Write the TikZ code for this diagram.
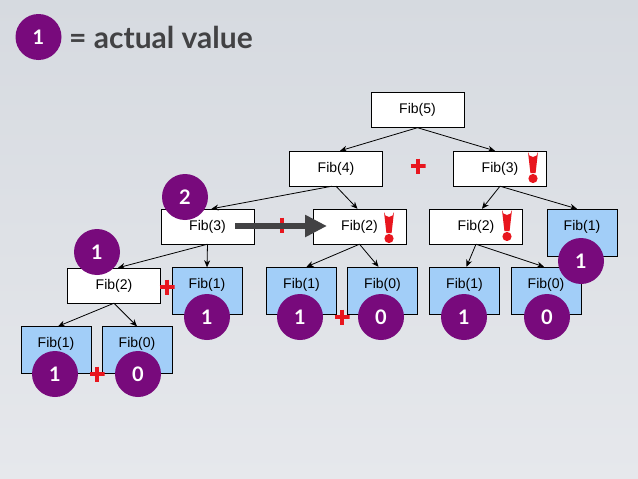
\documentclass[tikz,border=0pt]{standalone}
\usepackage{fontspec}
\setmainfont{Liberation Sans}
\newfontfamily\valuefont{Lato}
\usetikzlibrary{arrows.meta, positioning, calc}

\definecolor{callblue}{RGB}{162,206,248}
\definecolor{valpurple}{RGB}{120,10,124}
\definecolor{markred}{RGB}{232,22,30}
\definecolor{arrowgrey}{RGB}{66,66,68}
\definecolor{bgtop}{RGB}{214,218,224}
\definecolor{bgbottom}{RGB}{230,232,236}

\begin{document}
\begin{tikzpicture}[x=1pt, y=-1pt,
    callbox/.style={draw, fill=white, minimum width=93pt, minimum height=35pt,
      inner sep=0pt, font=\fontsize{14}{16}\selectfont},
    basebox/.style={draw, fill=callblue, minimum width=70pt, inner sep=0pt,
      text height=21pt, text depth=26pt, font=\fontsize{14}{16}\selectfont},
    valdot/.style={circle, fill=valpurple, text=white, minimum size=46pt,
      inner sep=0pt, font=\valuefont\bfseries\fontsize{20}{22}\selectfont},
    plusmark/.style={minimum size=15pt, inner sep=0pt,
      path picture={
        \draw[markred, line width=4pt]
          (path picture bounding box.north) -- (path picture bounding box.south)
          (path picture bounding box.west) -- (path picture bounding box.east);
      }},
    callarrow/.style={-{Stealth[length=7pt, width=6pt]}, line width=0.8pt},
    bang/.pic={
      \fill[markred] (-5,0) arc[start angle=180, end angle=0, radius=5]
        -- (2.6,21) -- (-2.6,21) -- cycle;
      \fill[markred] (0,26.5) circle[radius=4.6];
    }]

  % background
  \shade[top color=bgtop, bottom color=bgbottom] (0,0) rectangle (638,479);
  \useasboundingbox (0,0) rectangle (638,479);

  % legend
  \node[valdot] (key) at (38.5,37) {1};
  \node[right=4pt of key, text=arrowgrey,
    font=\valuefont\bfseries\fontsize{30}{32}\selectfont] (keytext) {= actual value};

  % calls
  \node[callbox] (f5) at (417.5,110) {Fib(5)};
  \node[callbox] (f4) at (336,168.5) {Fib(4)};
  \node[callbox] (f3r) at (500,168.5) {Fib(3)};
  \node[callbox] (f3l) at (207.5,226.5) {Fib(3)};
  \node[callbox] (f2m) at (359.5,226.5) {Fib(2)};
  \node[callbox] (f2r) at (476,226.5) {Fib(2)};
  \node[callbox] (f2l) at (114,285.5) {Fib(2)};

  % base cases
  \node[basebox] (f1r) at (582,232.5) {Fib(1)};
  \node[basebox] (f1a) at (207,291) {Fib(1)};
  \node[basebox] (f1b) at (301.5,290.5) {Fib(1)};
  \node[basebox] (f0b) at (382.5,290.5) {Fib(0)};
  \node[basebox] (f1c) at (464.5,290.5) {Fib(1)};
  \node[basebox] (f0c) at (546,290.5) {Fib(0)};
  \node[basebox] (f1d) at (56,350) {Fib(1)};
  \node[basebox] (f0d) at (137,350) {Fib(0)};

  % call edges
  \draw[callarrow] (f5.south) -- ([xshift=4pt]f4.north);
  \draw[callarrow] (f5.south) -- ([xshift=-5pt]f3r.north);
  \draw[callarrow] ([xshift=-4pt]f4.south) -- ([xshift=4pt]f3l.north);
  \draw[callarrow] (f4.south) -- ([xshift=-2pt]f2m.north);
  \draw[callarrow] (f3r.south) -- ([xshift=6pt]f2r.north);
  \draw[callarrow] (f3r.south) -- ([xshift=-5pt]f1r.north);
  \draw[callarrow] (f3l.south) -- ([xshift=4pt]f2l.north);
  \draw[callarrow] (f3l.south) -- (f1a.north);
  \draw[callarrow] (f2m.south) -- ([xshift=5pt]f1b.north);
  \draw[callarrow] (f2m.south) -- ([xshift=-4pt]f0b.north);
  \draw[callarrow] (f2r.south) -- ([xshift=2pt]f1c.north);
  \draw[callarrow] (f2r.south) -- ([xshift=-2pt]f0c.north);
  \draw[callarrow] (f2l.south) -- ([xshift=2pt]f1d.north);
  \draw[callarrow] (f2l.south) -- (f0d.north);

  % additions
  \node[plusmark] (p1) at (418,166) {};
  \node[plusmark] (p2) at (282,225) {};
  \node[plusmark] (p3) at (167,287) {};
  \node[plusmark] (p4) at (342,317) {};
  \node[plusmark] (p5) at (97,374) {};

  % reuse arrow
  \coordinate (reusefrom) at (235,226);
  \coordinate (reuseto) at (327,226);
  \draw[arrowgrey, line width=6pt, -{Triangle[length=22pt, width=21pt]}]
    (reusefrom) -- (reuseto);

  % repeated work
  \pic at (533,152) {bang};
  \pic at (389,212) {bang};
  \pic at (507,210) {bang};

  % values
  \node[valdot] (v2) at (185,197) {2};
  \node[valdot] (v1l) at (97,252) {1};
  \node[valdot] (v1r) at (581,261) {1};
  \node[valdot] (v1a) at (207,317) {1};
  \node[valdot] (v1b) at (300,317) {1};
  \node[valdot] (v0b) at (381,317) {0};
  \node[valdot] (v1c) at (464,317) {1};
  \node[valdot] (v0c) at (547,317) {0};
  \node[valdot] (v1d) at (55,374) {1};
  \node[valdot] (v0d) at (138,374) {0};
\end{tikzpicture}
\end{document}
